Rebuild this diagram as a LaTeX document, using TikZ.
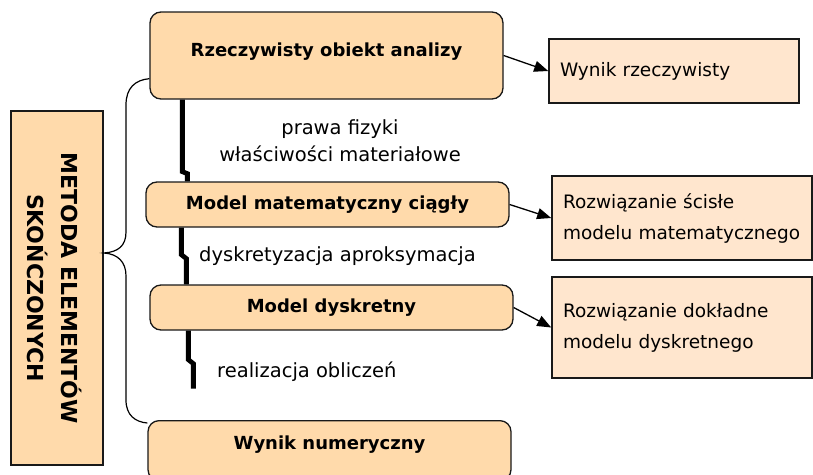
\documentclass[tikz,border=0pt]{standalone}
\usepackage{fontspec}
\setmainfont{DejaVu Sans}
\usetikzlibrary{arrows.meta,calc}
\definecolor{peach}{RGB}{255,218,171}
\definecolor{lightpeach}{RGB}{255,230,206}
\definecolor{edge}{RGB}{25,25,25}
\begin{document}
\begin{tikzpicture}[x=1pt,y=-1pt,
  boldfont/.style={font=\bfseries\fontsize{18}{22}\selectfont},
  stage/.style={draw=edge, line width=1.3pt, fill=peach, rounded corners=11pt,
    boldfont, inner sep=0pt},
  result/.style={draw=edge, line width=1.6pt, fill=lightpeach, align=left,
    font=\fontsize{18.5}{31}\selectfont, inner xsep=11pt, inner ysep=0pt},
  note/.style={font=\fontsize{19.5}{27}\selectfont, align=center, inner sep=0pt},
  flow/.style={line width=1.3pt, -{Triangle[length=14pt,width=11pt]}},
  bolt/.style={line width=4.8pt, miter limit=4},
  brace/.style={line width=1.2pt}]
\useasboundingbox (0,0) rectangle (813,474);

% method box on the left
\node[draw=edge, line width=1.3pt, fill=peach, minimum width=92pt, minimum height=354pt,
      inner sep=0pt] (fem) at (57,288) {};
\node[rotate=-90, align=center, font=\bfseries\fontsize{22}{34}\selectfont] (femtext) at (55,288)
  {METODA ELEMENTÓW\\SKOŃCZONYCH};

% stages of the analysis
\node[stage, minimum width=353pt, minimum height=87pt] (obj) at (326.5,55.5) {};
\node[boldfont] (objtext) at (326.5,52) {Rzeczywisty obiekt analizy};
\node[stage, minimum width=363pt, minimum height=45pt] (cont) at (327.5,204.5) {Model matematyczny ciągły};
\node[stage, minimum width=363pt, minimum height=45pt] (disc) at (331.5,307.5) {Model dyskretny};
\node[stage, minimum width=363pt, minimum height=60pt, anchor=north] (num) at (329.5,420) {};
\node[boldfont] (numtext) at (329.5,445) {Wynik numeryczny};

% results
\node[result, text width=228pt, minimum height=64pt] (real) at (674,71) {\mbox{Wynik rzeczywisty}};
\node[result, text width=238pt, minimum height=84pt] (exact) at (682,218)
  {\mbox{Rozwiązanie ścisłe}\\\mbox{modelu matematycznego}};
\node[result, text width=238pt, minimum height=101pt] (exdisc) at (682,327.5)
  {\mbox{Rozwiązanie dokładne}\\\mbox{modelu dyskretnego}};

% transition labels
\node[note] (lab1) at (340,141) {prawa fizyki\\właściwości materiałowe};
\node[note, anchor=west] (lab2) at (199,256) {dyskretyzacja aproksymacja};
\node[note, anchor=west] (lab3) at (217,372) {realizacja obliczeń};

% arrows to the results
\draw[flow] (obj.east) -- (real.west);
\draw[flow] (cont.east) -- (exact.west);
\draw[flow] (disc.east) -- (exdisc.west);

% thick stepped connectors between stages
\draw[bolt] ($(obj.south west)+(33,0)$) -- ++(0,72) -- ++(5,2) -- (cont.north west -| {$(obj.south west)+(38,0)$});
\draw[bolt] ($(cont.south west)+(36,0)$) -- ++(0,27) -- ++(5,4) -- ($(disc.north west)+(37,0)$);
\draw[bolt] ($(disc.south west)+(39,0)$) -- ++(0,29) -- ++(5,4) -- ++(0,25);

% brace joining the method box with the stages
\coordinate (tip) at (104,253);
\draw[brace] ($(obj.south west)+(0,-21)$) .. controls (135,80) and (126,88) .. (126,105)
  -- (126,232) .. controls (126,246) and (118,252) .. (tip)
  .. controls (118,254) and (126,262) .. (126,276)
  -- (126,400) .. controls (126,415) and (135,422) .. ($(num.north west)+(0,3)$);
\end{tikzpicture}
\end{document}
